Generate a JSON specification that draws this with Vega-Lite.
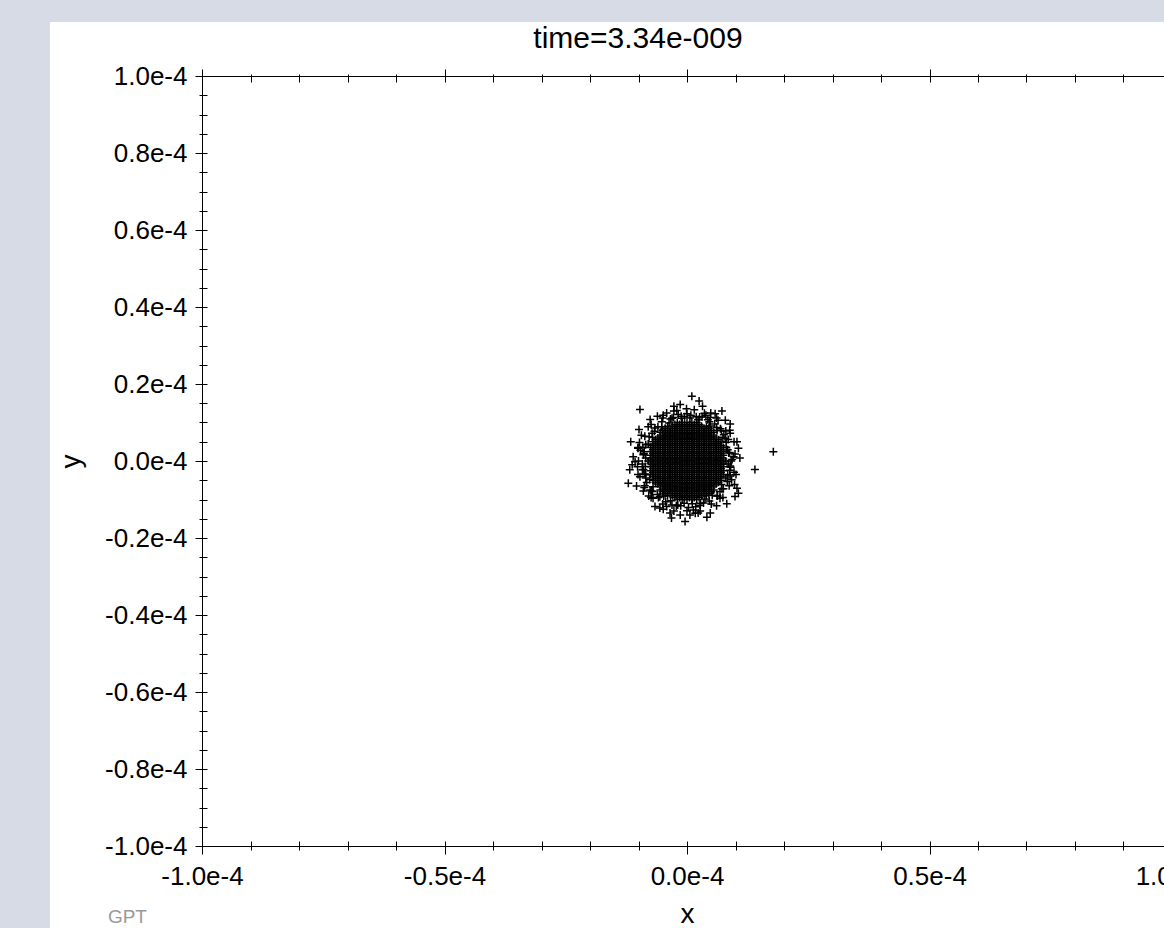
{
  "$schema": "https://vega.github.io/schema/vega-lite/v6.json",
  "width": 1114,
  "height": 906,
  "autosize": {"type": "none"},
  "padding": {"left": 50, "top": 22, "right": 0, "bottom": 0},
  "background": "#d6dbe5",
  "title": {"text": "time=3.34e-009", "font": "Liberation Sans", "fontSize": 30, "fontWeight": "normal", "color": "black", "anchor": "middle", "baseline": "alphabetic", "offset": -56, "dx": 31},
  "config": {
    "view": {"fill": "white", "stroke": null},
    "axis": {"labelFont": "Liberation Sans", "titleFont": "Liberation Sans", "labelColor": "black", "titleColor": "black", "tickColor": "black", "domainColor": "black", "domainWidth": 1, "tickWidth": 1, "grid": false, "labelFontSize": 26, "titleFontSize": 28, "titleFontWeight": "normal", "labelFlush": false, "labelOverlap": false, "zindex": 1}
  },
  "data": {"values": [
{"x":-2,"y":10},{"x":-1,"y":10},{"x":0,"y":10},{"x":1,"y":10},{"x":2,"y":10},
{"x":-4,"y":9},{"x":-3,"y":9},{"x":-2,"y":9},{"x":-1,"y":9},{"x":0,"y":9},{"x":1,"y":9},{"x":2,"y":9},{"x":3,"y":9},{"x":4,"y":9},
{"x":-5,"y":8},{"x":-4,"y":8},{"x":-3,"y":8},{"x":-2,"y":8},{"x":-1,"y":8},{"x":0,"y":8},{"x":1,"y":8},{"x":2,"y":8},{"x":3,"y":8},{"x":4,"y":8},{"x":5,"y":8},
{"x":-5,"y":7},{"x":-4,"y":7},{"x":-3,"y":7},{"x":-2,"y":7},{"x":-1,"y":7},{"x":0,"y":7},{"x":1,"y":7},{"x":2,"y":7},{"x":3,"y":7},{"x":4,"y":7},{"x":5,"y":7},
{"x":-6,"y":6},{"x":-5,"y":6},{"x":-4,"y":6},{"x":-3,"y":6},{"x":-2,"y":6},{"x":-1,"y":6},{"x":0,"y":6},{"x":1,"y":6},{"x":2,"y":6},{"x":3,"y":6},{"x":4,"y":6},{"x":5,"y":6},{"x":6,"y":6},
{"x":-7,"y":5},{"x":-6,"y":5},{"x":-5,"y":5},{"x":-4,"y":5},{"x":-3,"y":5},{"x":-2,"y":5},{"x":-1,"y":5},{"x":0,"y":5},{"x":1,"y":5},{"x":2,"y":5},{"x":3,"y":5},{"x":4,"y":5},{"x":5,"y":5},{"x":6,"y":5},{"x":7,"y":5},
{"x":-7,"y":4},{"x":-6,"y":4},{"x":-5,"y":4},{"x":-4,"y":4},{"x":-3,"y":4},{"x":-2,"y":4},{"x":-1,"y":4},{"x":0,"y":4},{"x":1,"y":4},{"x":2,"y":4},{"x":3,"y":4},{"x":4,"y":4},{"x":5,"y":4},{"x":6,"y":4},{"x":7,"y":4},
{"x":-7,"y":3},{"x":-6,"y":3},{"x":-5,"y":3},{"x":-4,"y":3},{"x":-3,"y":3},{"x":-2,"y":3},{"x":-1,"y":3},{"x":0,"y":3},{"x":1,"y":3},{"x":2,"y":3},{"x":3,"y":3},{"x":4,"y":3},{"x":5,"y":3},{"x":6,"y":3},{"x":7,"y":3},
{"x":-7,"y":2},{"x":-6,"y":2},{"x":-5,"y":2},{"x":-4,"y":2},{"x":-3,"y":2},{"x":-2,"y":2},{"x":-1,"y":2},{"x":0,"y":2},{"x":1,"y":2},{"x":2,"y":2},{"x":3,"y":2},{"x":4,"y":2},{"x":5,"y":2},{"x":6,"y":2},{"x":7,"y":2},
{"x":-7,"y":1},{"x":-6,"y":1},{"x":-5,"y":1},{"x":-4,"y":1},{"x":-3,"y":1},{"x":-2,"y":1},{"x":-1,"y":1},{"x":0,"y":1},{"x":1,"y":1},{"x":2,"y":1},{"x":3,"y":1},{"x":4,"y":1},{"x":5,"y":1},{"x":6,"y":1},{"x":7,"y":1},
{"x":-8,"y":0},{"x":-7,"y":0},{"x":-6,"y":0},{"x":-5,"y":0},{"x":-4,"y":0},{"x":-3,"y":0},{"x":-2,"y":0},{"x":-1,"y":0},{"x":0,"y":0},{"x":1,"y":0},{"x":2,"y":0},{"x":3,"y":0},{"x":4,"y":0},{"x":5,"y":0},{"x":6,"y":0},{"x":7,"y":0},{"x":8,"y":0},
{"x":-7,"y":-1},{"x":-6,"y":-1},{"x":-5,"y":-1},{"x":-4,"y":-1},{"x":-3,"y":-1},{"x":-2,"y":-1},{"x":-1,"y":-1},{"x":0,"y":-1},{"x":1,"y":-1},{"x":2,"y":-1},{"x":3,"y":-1},{"x":4,"y":-1},{"x":5,"y":-1},{"x":6,"y":-1},{"x":7,"y":-1},
{"x":-7,"y":-2},{"x":-6,"y":-2},{"x":-5,"y":-2},{"x":-4,"y":-2},{"x":-3,"y":-2},{"x":-2,"y":-2},{"x":-1,"y":-2},{"x":0,"y":-2},{"x":1,"y":-2},{"x":2,"y":-2},{"x":3,"y":-2},{"x":4,"y":-2},{"x":5,"y":-2},{"x":6,"y":-2},{"x":7,"y":-2},
{"x":-7,"y":-3},{"x":-6,"y":-3},{"x":-5,"y":-3},{"x":-4,"y":-3},{"x":-3,"y":-3},{"x":-2,"y":-3},{"x":-1,"y":-3},{"x":0,"y":-3},{"x":1,"y":-3},{"x":2,"y":-3},{"x":3,"y":-3},{"x":4,"y":-3},{"x":5,"y":-3},{"x":6,"y":-3},{"x":7,"y":-3},
{"x":-7,"y":-4},{"x":-6,"y":-4},{"x":-5,"y":-4},{"x":-4,"y":-4},{"x":-3,"y":-4},{"x":-2,"y":-4},{"x":-1,"y":-4},{"x":0,"y":-4},{"x":1,"y":-4},{"x":2,"y":-4},{"x":3,"y":-4},{"x":4,"y":-4},{"x":5,"y":-4},{"x":6,"y":-4},{"x":7,"y":-4},
{"x":-7,"y":-5},{"x":-6,"y":-5},{"x":-5,"y":-5},{"x":-4,"y":-5},{"x":-3,"y":-5},{"x":-2,"y":-5},{"x":-1,"y":-5},{"x":0,"y":-5},{"x":1,"y":-5},{"x":2,"y":-5},{"x":3,"y":-5},{"x":4,"y":-5},{"x":5,"y":-5},{"x":6,"y":-5},{"x":7,"y":-5},
{"x":-6,"y":-6},{"x":-5,"y":-6},{"x":-4,"y":-6},{"x":-3,"y":-6},{"x":-2,"y":-6},{"x":-1,"y":-6},{"x":0,"y":-6},{"x":1,"y":-6},{"x":2,"y":-6},{"x":3,"y":-6},{"x":4,"y":-6},{"x":5,"y":-6},{"x":6,"y":-6},
{"x":-5,"y":-7},{"x":-4,"y":-7},{"x":-3,"y":-7},{"x":-2,"y":-7},{"x":-1,"y":-7},{"x":0,"y":-7},{"x":1,"y":-7},{"x":2,"y":-7},{"x":3,"y":-7},{"x":4,"y":-7},{"x":5,"y":-7},
{"x":-5,"y":-8},{"x":-4,"y":-8},{"x":-3,"y":-8},{"x":-2,"y":-8},{"x":-1,"y":-8},{"x":0,"y":-8},{"x":1,"y":-8},{"x":2,"y":-8},{"x":3,"y":-8},{"x":4,"y":-8},{"x":5,"y":-8},
{"x":-4,"y":-9},{"x":-3,"y":-9},{"x":-2,"y":-9},{"x":-1,"y":-9},{"x":0,"y":-9},{"x":1,"y":-9},{"x":2,"y":-9},{"x":3,"y":-9},{"x":4,"y":-9},
{"x":-2,"y":-10},{"x":-1,"y":-10},{"x":0,"y":-10},{"x":1,"y":-10},{"x":2,"y":-10},
{"x":-2.5,"y":9.5},{"x":-1.5,"y":9.5},{"x":-0.5,"y":9.5},{"x":0.5,"y":9.5},{"x":1.5,"y":9.5},{"x":2.5,"y":9.5},
{"x":-4.5,"y":8.5},{"x":-3.5,"y":8.5},{"x":-2.5,"y":8.5},{"x":-1.5,"y":8.5},{"x":-0.5,"y":8.5},{"x":0.5,"y":8.5},{"x":1.5,"y":8.5},{"x":2.5,"y":8.5},{"x":3.5,"y":8.5},{"x":4.5,"y":8.5},
{"x":-5.5,"y":7.5},{"x":-4.5,"y":7.5},{"x":-3.5,"y":7.5},{"x":-2.5,"y":7.5},{"x":-1.5,"y":7.5},{"x":-0.5,"y":7.5},{"x":0.5,"y":7.5},{"x":1.5,"y":7.5},{"x":2.5,"y":7.5},{"x":3.5,"y":7.5},{"x":4.5,"y":7.5},{"x":5.5,"y":7.5},
{"x":-5.5,"y":6.5},{"x":-4.5,"y":6.5},{"x":-3.5,"y":6.5},{"x":-2.5,"y":6.5},{"x":-1.5,"y":6.5},{"x":-0.5,"y":6.5},{"x":0.5,"y":6.5},{"x":1.5,"y":6.5},{"x":2.5,"y":6.5},{"x":3.5,"y":6.5},{"x":4.5,"y":6.5},{"x":5.5,"y":6.5},
{"x":-6.5,"y":5.5},{"x":-5.5,"y":5.5},{"x":-4.5,"y":5.5},{"x":-3.5,"y":5.5},{"x":-2.5,"y":5.5},{"x":-1.5,"y":5.5},{"x":-0.5,"y":5.5},{"x":0.5,"y":5.5},{"x":1.5,"y":5.5},{"x":2.5,"y":5.5},{"x":3.5,"y":5.5},{"x":4.5,"y":5.5},{"x":5.5,"y":5.5},{"x":6.5,"y":5.5},
{"x":-6.5,"y":4.5},{"x":-5.5,"y":4.5},{"x":-4.5,"y":4.5},{"x":-3.5,"y":4.5},{"x":-2.5,"y":4.5},{"x":-1.5,"y":4.5},{"x":-0.5,"y":4.5},{"x":0.5,"y":4.5},{"x":1.5,"y":4.5},{"x":2.5,"y":4.5},{"x":3.5,"y":4.5},{"x":4.5,"y":4.5},{"x":5.5,"y":4.5},{"x":6.5,"y":4.5},
{"x":-7.5,"y":3.5},{"x":-6.5,"y":3.5},{"x":-5.5,"y":3.5},{"x":-4.5,"y":3.5},{"x":-3.5,"y":3.5},{"x":-2.5,"y":3.5},{"x":-1.5,"y":3.5},{"x":-0.5,"y":3.5},{"x":0.5,"y":3.5},{"x":1.5,"y":3.5},{"x":2.5,"y":3.5},{"x":3.5,"y":3.5},{"x":4.5,"y":3.5},{"x":5.5,"y":3.5},{"x":6.5,"y":3.5},{"x":7.5,"y":3.5},
{"x":-7.5,"y":2.5},{"x":-6.5,"y":2.5},{"x":-5.5,"y":2.5},{"x":-4.5,"y":2.5},{"x":-3.5,"y":2.5},{"x":-2.5,"y":2.5},{"x":-1.5,"y":2.5},{"x":-0.5,"y":2.5},{"x":0.5,"y":2.5},{"x":1.5,"y":2.5},{"x":2.5,"y":2.5},{"x":3.5,"y":2.5},{"x":4.5,"y":2.5},{"x":5.5,"y":2.5},{"x":6.5,"y":2.5},{"x":7.5,"y":2.5},
{"x":-7.5,"y":1.5},{"x":-6.5,"y":1.5},{"x":-5.5,"y":1.5},{"x":-4.5,"y":1.5},{"x":-3.5,"y":1.5},{"x":-2.5,"y":1.5},{"x":-1.5,"y":1.5},{"x":-0.5,"y":1.5},{"x":0.5,"y":1.5},{"x":1.5,"y":1.5},{"x":2.5,"y":1.5},{"x":3.5,"y":1.5},{"x":4.5,"y":1.5},{"x":5.5,"y":1.5},{"x":6.5,"y":1.5},{"x":7.5,"y":1.5},
{"x":-7.5,"y":0.5},{"x":-6.5,"y":0.5},{"x":-5.5,"y":0.5},{"x":-4.5,"y":0.5},{"x":-3.5,"y":0.5},{"x":-2.5,"y":0.5},{"x":-1.5,"y":0.5},{"x":-0.5,"y":0.5},{"x":0.5,"y":0.5},{"x":1.5,"y":0.5},{"x":2.5,"y":0.5},{"x":3.5,"y":0.5},{"x":4.5,"y":0.5},{"x":5.5,"y":0.5},{"x":6.5,"y":0.5},{"x":7.5,"y":0.5},
{"x":-7.5,"y":-0.5},{"x":-6.5,"y":-0.5},{"x":-5.5,"y":-0.5},{"x":-4.5,"y":-0.5},{"x":-3.5,"y":-0.5},{"x":-2.5,"y":-0.5},{"x":-1.5,"y":-0.5},{"x":-0.5,"y":-0.5},{"x":0.5,"y":-0.5},{"x":1.5,"y":-0.5},{"x":2.5,"y":-0.5},{"x":3.5,"y":-0.5},{"x":4.5,"y":-0.5},{"x":5.5,"y":-0.5},{"x":6.5,"y":-0.5},{"x":7.5,"y":-0.5},
{"x":-7.5,"y":-1.5},{"x":-6.5,"y":-1.5},{"x":-5.5,"y":-1.5},{"x":-4.5,"y":-1.5},{"x":-3.5,"y":-1.5},{"x":-2.5,"y":-1.5},{"x":-1.5,"y":-1.5},{"x":-0.5,"y":-1.5},{"x":0.5,"y":-1.5},{"x":1.5,"y":-1.5},{"x":2.5,"y":-1.5},{"x":3.5,"y":-1.5},{"x":4.5,"y":-1.5},{"x":5.5,"y":-1.5},{"x":6.5,"y":-1.5},{"x":7.5,"y":-1.5},
{"x":-7.5,"y":-2.5},{"x":-6.5,"y":-2.5},{"x":-5.5,"y":-2.5},{"x":-4.5,"y":-2.5},{"x":-3.5,"y":-2.5},{"x":-2.5,"y":-2.5},{"x":-1.5,"y":-2.5},{"x":-0.5,"y":-2.5},{"x":0.5,"y":-2.5},{"x":1.5,"y":-2.5},{"x":2.5,"y":-2.5},{"x":3.5,"y":-2.5},{"x":4.5,"y":-2.5},{"x":5.5,"y":-2.5},{"x":6.5,"y":-2.5},{"x":7.5,"y":-2.5},
{"x":-7.5,"y":-3.5},{"x":-6.5,"y":-3.5},{"x":-5.5,"y":-3.5},{"x":-4.5,"y":-3.5},{"x":-3.5,"y":-3.5},{"x":-2.5,"y":-3.5},{"x":-1.5,"y":-3.5},{"x":-0.5,"y":-3.5},{"x":0.5,"y":-3.5},{"x":1.5,"y":-3.5},{"x":2.5,"y":-3.5},{"x":3.5,"y":-3.5},{"x":4.5,"y":-3.5},{"x":5.5,"y":-3.5},{"x":6.5,"y":-3.5},{"x":7.5,"y":-3.5},
{"x":-6.5,"y":-4.5},{"x":-5.5,"y":-4.5},{"x":-4.5,"y":-4.5},{"x":-3.5,"y":-4.5},{"x":-2.5,"y":-4.5},{"x":-1.5,"y":-4.5},{"x":-0.5,"y":-4.5},{"x":0.5,"y":-4.5},{"x":1.5,"y":-4.5},{"x":2.5,"y":-4.5},{"x":3.5,"y":-4.5},{"x":4.5,"y":-4.5},{"x":5.5,"y":-4.5},{"x":6.5,"y":-4.5},
{"x":-6.5,"y":-5.5},{"x":-5.5,"y":-5.5},{"x":-4.5,"y":-5.5},{"x":-3.5,"y":-5.5},{"x":-2.5,"y":-5.5},{"x":-1.5,"y":-5.5},{"x":-0.5,"y":-5.5},{"x":0.5,"y":-5.5},{"x":1.5,"y":-5.5},{"x":2.5,"y":-5.5},{"x":3.5,"y":-5.5},{"x":4.5,"y":-5.5},{"x":5.5,"y":-5.5},{"x":6.5,"y":-5.5},
{"x":-5.5,"y":-6.5},{"x":-4.5,"y":-6.5},{"x":-3.5,"y":-6.5},{"x":-2.5,"y":-6.5},{"x":-1.5,"y":-6.5},{"x":-0.5,"y":-6.5},{"x":0.5,"y":-6.5},{"x":1.5,"y":-6.5},{"x":2.5,"y":-6.5},{"x":3.5,"y":-6.5},{"x":4.5,"y":-6.5},{"x":5.5,"y":-6.5},
{"x":-5.5,"y":-7.5},{"x":-4.5,"y":-7.5},{"x":-3.5,"y":-7.5},{"x":-2.5,"y":-7.5},{"x":-1.5,"y":-7.5},{"x":-0.5,"y":-7.5},{"x":0.5,"y":-7.5},{"x":1.5,"y":-7.5},{"x":2.5,"y":-7.5},{"x":3.5,"y":-7.5},{"x":4.5,"y":-7.5},{"x":5.5,"y":-7.5},
{"x":-4.5,"y":-8.5},{"x":-3.5,"y":-8.5},{"x":-2.5,"y":-8.5},{"x":-1.5,"y":-8.5},{"x":-0.5,"y":-8.5},{"x":0.5,"y":-8.5},{"x":1.5,"y":-8.5},{"x":2.5,"y":-8.5},{"x":3.5,"y":-8.5},{"x":4.5,"y":-8.5},
{"x":-2.5,"y":-9.5},{"x":-1.5,"y":-9.5},{"x":-0.5,"y":-9.5},{"x":0.5,"y":-9.5},{"x":1.5,"y":-9.5},{"x":2.5,"y":-9.5},
{"x":-9.7,"y":13.4},{"x":1.0,"y":16.8},{"x":2.5,"y":15.6},{"x":3.2,"y":14.2},{"x":-1.4,"y":14.7},{"x":-2.7,"y":14.2},{"x":-0.1,"y":13.6},{"x":-4.2,"y":12.5},{"x":7.2,"y":13.0},{"x":5.8,"y":12.3},
{"x":-7.6,"y":10.8},{"x":-9.9,"y":8.2},{"x":8.9,"y":9.6},{"x":7.9,"y":10.6},{"x":-11.6,"y":5.0},{"x":10.3,"y":5.0},{"x":10.6,"y":3.3},{"x":17.8,"y":2.4},{"x":14.0,"y":-2.2},{"x":-11.8,"y":-2.3},
{"x":-12.1,"y":-5.8},{"x":-10.4,"y":-6.5},{"x":-9.0,"y":-2.2},{"x":-10.7,"y":-0.2},{"x":10.3,"y":-7.1},{"x":10.6,"y":-8.4},{"x":8.2,"y":-11.1},{"x":9.9,"y":-9.2},{"x":-7.0,"y":-9.7},{"x":-6.6,"y":-11.8},
{"x":-3.5,"y":-13.5},{"x":-3.2,"y":-14.8},{"x":-0.4,"y":-15.7},{"x":4.8,"y":-13.5},{"x":4.1,"y":-14.6},{"x":2.3,"y":-13.5},{"x":-4.2,"y":-11.8},{"x":6.8,"y":-9.7},{"x":-9.7,"y":-4.1},{"x":-11.1,"y":1.1},
{"x":-10.1,"y":3.3},{"x":-9.4,"y":6.7},{"x":-8.0,"y":8.9},{"x":-4.9,"y":11.9},{"x":4.8,"y":11.3},{"x":8.9,"y":7.2},{"x":9.6,"y":1.1},{"x":9.2,"y":-4.9},{"x":-7.6,"y":-7.5},{"x":-1.4,"y":-14.0},{"x":1.3,"y":-12.7},
{"x":8.6,"y":2.1},{"x":8.9,"y":-1.3},{"x":8.4,"y":-3.6},{"x":8.1,"y":4.9},{"x":7.6,"y":6.8},{"x":6.9,"y":8.4},{"x":5.7,"y":9.6},{"x":4.3,"y":10.7},{"x":2.6,"y":11.4},{"x":0.8,"y":11.9},
{"x":-1.2,"y":11.6},{"x":-3.1,"y":11.1},{"x":-5.2,"y":10.2},{"x":-6.6,"y":8.6},{"x":-7.8,"y":6.3},{"x":-8.5,"y":4.2},{"x":-8.9,"y":1.9},{"x":-9.2,"y":-0.8},{"x":-8.7,"y":-3.4},{"x":-8.3,"y":-5.6},
{"x":-7.3,"y":-7.8},{"x":-5.9,"y":-9.5},{"x":-4.4,"y":-10.6},{"x":-2.2,"y":-11.7},{"x":0.3,"y":-12.1},{"x":2.7,"y":-11.5},{"x":4.6,"y":-10.4},{"x":6.3,"y":-9.1},{"x":7.5,"y":-7.2},{"x":8.3,"y":-5.3},
{"x":9.3,"y":0.4},{"x":-9.6,"y":2.8},{"x":-10.2,"y":-1.5},{"x":9.7,"y":-2.9},{"x":3.6,"y":12.4},{"x":-2.1,"y":13.1},{"x":1.7,"y":-13.6},{"x":-5.6,"y":-12.2},{"x":6.1,"y":11.2},{"x":-7.9,"y":-9.1},
{"x":8.8,"y":8.0},{"x":-8.8,"y":-6.9},
{"x":9.1,"y":0},{"x":9.9,"y":1.8},{"x":8.4,"y":2.9},{"x":9.7,"y":5.0},{"x":7.9,"y":5.9},{"x":8.0,"y":7.8},{"x":6.2,"y":7.9},{"x":6.4,"y":10.6},{"x":4.6,"y":10.2},{"x":3.9,"y":11.9},
{"x":2.3,"y":10.8},{"x":1.5,"y":13.3},{"x":0,"y":12.3},{"x":-1.1,"y":11.1},{"x":-2.7,"y":13.0},{"x":-3.4,"y":10.9},{"x":-5.0,"y":11.2},{"x":-5.2,"y":8.9},{"x":-7.4,"y":9.5},{"x":-7.2,"y":7.2},
{"x":-8.7,"y":6.4},{"x":-8.0,"y":4.4},{"x":-10.1,"y":3.5},{"x":-9.0,"y":1.6},{"x":-10.0,"y":0},{"x":-8.6,"y":-1.4},{"x":-10.1,"y":-3.5},{"x":-8.5,"y":-4.4},{"x":-8.7,"y":-6.4},{"x":-7.0,"y":-6.7},
{"x":-7.4,"y":-9.5},{"x":-5.6,"y":-9.3},{"x":-5.0,"y":-11.2},{"x":-3.4,"y":-10.3},{"x":-2.7,"y":-13.0},{"x":-1.3,"y":-11.6},{"x":0,"y":-12.9},{"x":1.1,"y":-11.1},{"x":2.7,"y":-13.0},{"x":3.4,"y":-10.9},
{"x":5.0,"y":-11.2},{"x":5.2,"y":-8.9},{"x":7.4,"y":-9.5},{"x":7.2,"y":-7.2},{"x":8.7,"y":-6.4},{"x":8.0,"y":-4.4},{"x":10.1,"y":-3.5},{"x":9.0,"y":-1.6},
{"x":10.9,"y":0.8},{"x":8.1,"y":3.6},{"x":8.5,"y":5.6},{"x":7.1,"y":7.9},{"x":4.8,"y":9.1},{"x":4.9,"y":12.5},{"x":3.1,"y":11.4},{"x":0.6,"y":11.2},{"x":-1.8,"y":12.1},{"x":-3.7,"y":9.9},
{"x":-6.1,"y":11.6},{"x":-6.0,"y":8.9},{"x":-7.1,"y":6.1},{"x":-9.8,"y":4.8},{"x":-9.1,"y":3.6},{"x":-8.5,"y":0.8},{"x":-11.3,"y":-1.0},{"x":-9.2,"y":-2.3},{"x":-7.7,"y":-4.8},{"x":-9.0,"y":-7.8},
{"x":-7.1,"y":-7.9},{"x":-4.8,"y":-9.1},{"x":-4.9,"y":-12.5},{"x":-3.1,"y":-11.4},{"x":-0.6,"y":-11.0},{"x":0.6,"y":-14.0},{"x":1.8,"y":-11.9},{"x":3.7,"y":-9.9},{"x":6.1,"y":-11.6},{"x":6.2,"y":-9.1},
{"x":7.1,"y":-6.1},{"x":9.8,"y":-6.1},{"x":8.9,"y":-3.9},{"x":8.5,"y":-0.8},
{"x":8.8,"y":2.2},{"x":7.4,"y":6.2},{"x":6.1,"y":8.7},{"x":1.9,"y":11.5},{"x":-0.5,"y":11.5},{"x":-2.8,"y":11.3},{"x":-6.7,"y":7.7},{"x":-8.8,"y":2.4},{"x":-8.5,"y":-3.6},{"x":-6.1,"y":-8.7},
{"x":-1.9,"y":-11.4},{"x":2.8,"y":-11.0},{"x":6.8,"y":-7.9},{"x":8.8,"y":-2.4}
  ]},
  "layer": [
    {
      "mark": {"type": "point", "shape": "M-1,0L1,0M0,-1L0,1", "size": 64, "filled": false, "color": "black", "strokeWidth": 1.5, "opacity": 1},
      "encoding": {
        "x": {"field": "x", "type": "quantitative",
          "scale": {"domain": [-100, 100], "range": [152, 1122], "nice": false, "zero": false},
          "axis": {"orient": "bottom", "offset": -82, "values": [-100, -50, 0, 50, 100], "ticks": false, "tickSize": 0, "domain": true, "labelPadding": 17,
            "labelExpr": "(datum.value < 0 ? '-' : '') + format(abs(datum.value) / 100, '.1f') + 'e-4'",
            "title": "x", "titlePadding": 11}},
        "y": {"field": "y", "type": "quantitative",
          "scale": {"domain": [-100, 100], "range": [824, 54], "nice": false, "zero": false},
          "axis": {"orient": "left", "offset": -152, "values": [-100, -80, -60, -40, -20, 0, 20, 40, 60, 80, 100], "ticks": false, "tickSize": 0, "domain": true, "labelPadding": 15,
            "labelExpr": "(datum.value < 0 ? '-' : '') + format(abs(datum.value) / 100, '.1f') + 'e-4'",
            "title": "y", "titlePadding": 19}}
      }
    },
    {
      "data": {"values": []},
      "mark": {"type": "point", "opacity": 0},
      "encoding": {
        "x": {"field": "x", "type": "quantitative",
          "axis": {"orient": "bottom", "offset": -87, "values": [-100, -90, -80, -70, -60, -50, -40, -30, -20, -10, 0, 10, 20, 30, 40, 50, 60, 70, 80, 90, 100],
            "labels": false, "domain": false, "ticks": true, "title": null,
            "tickSize": {"condition": {"test": "datum.value % 50 == 0", "value": 13}, "value": 9}}},
        "y": {"field": "y", "type": "quantitative",
          "axis": {"orient": "left", "offset": -157, "values": [-100, -95, -90, -85, -80, -75, -70, -65, -60, -55, -50, -45, -40, -35, -30, -25, -20, -15, -10, -5, 0, 5, 10, 15, 20, 25, 30, 35, 40, 45, 50, 55, 60, 65, 70, 75, 80, 85, 90, 95, 100],
            "labels": false, "domain": false, "ticks": true, "title": null,
            "tickSize": {"condition": {"test": "datum.value % 20 == 0", "value": 12}, "value": 8}}}
      }
    },
    {
      "data": {"values": []},
      "mark": {"type": "point", "opacity": 0},
      "encoding": {
        "x": {"field": "x", "type": "quantitative",
          "axis": {"orient": "top", "offset": -54, "labels": false, "ticks": false, "tickSize": 0, "domain": true, "title": null}},
        "y": {"field": "y", "type": "quantitative", "axis": null}
      }
    },
    {
      "data": {"values": []},
      "mark": {"type": "point", "opacity": 0},
      "encoding": {
        "x": {"field": "x", "type": "quantitative",
          "axis": {"orient": "top", "offset": -60, "values": [-100, -90, -80, -70, -60, -50, -40, -30, -20, -10, 0, 10, 20, 30, 40, 50, 60, 70, 80, 90, 100],
            "labels": false, "domain": false, "ticks": true, "title": null,
            "tickSize": {"condition": {"test": "datum.value % 50 == 0", "value": 13}, "value": 8}}},
        "y": {"field": "y", "type": "quantitative", "axis": null}
      }
    },
    {
      "data": {"values": [{"label": "GPT"}]},
      "mark": {"type": "text", "font": "Liberation Sans", "fontSize": 19, "color": "#9a9a9a", "align": "left", "baseline": "middle", "clip": false},
      "encoding": {
        "x": {"datum": -119.4, "type": "quantitative", "axis": null},
        "y": {"datum": -118.5, "type": "quantitative", "axis": null},
        "text": {"field": "label"}
      }
    }
  ],
  "resolve": {"axis": {"x": "independent", "y": "independent"}}
}
